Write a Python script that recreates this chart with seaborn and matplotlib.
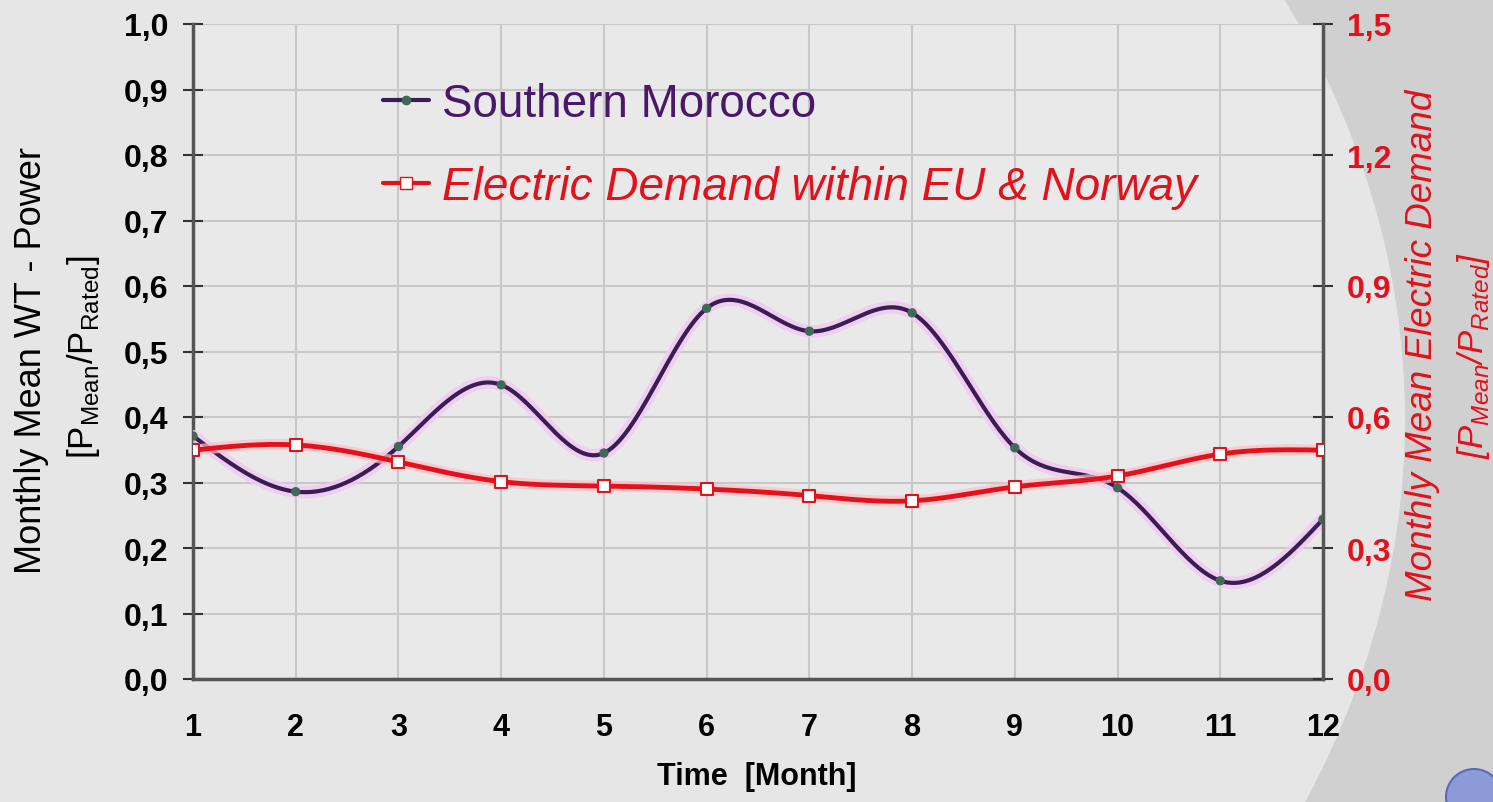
import numpy as np
import pandas as pd
import matplotlib
matplotlib.use("Agg")
import matplotlib.pyplot as plt
import seaborn as sns
from matplotlib.ticker import FuncFormatter
from matplotlib.patches import Ellipse
from matplotlib.lines import Line2D

# data
months = [1, 2, 3, 4, 5, 6, 7, 8, 9, 10, 11, 12]
morocco = [0.371, 0.286, 0.355, 0.449, 0.345, 0.566, 0.531, 0.559, 0.353, 0.292, 0.150, 0.244]
demand = [0.524, 0.536, 0.497, 0.452, 0.442, 0.435, 0.420, 0.408, 0.440, 0.465, 0.515, 0.524]

left_ticks = [0.0, 0.1, 0.2, 0.3, 0.4, 0.5, 0.6, 0.7, 0.8, 0.9, 1.0]
right_ticks = [0.0, 0.3, 0.6, 0.9, 1.2, 1.5]

label_morocco = "Southern Morocco"
label_demand = "Electric Demand within EU & Norway"


def spline(x, y, n=400):
    # natural cubic spline, only used to draw the smoothed line
    x = np.asarray(x, float)
    y = np.asarray(y, float)
    h = np.diff(x)
    m = len(x)
    A = np.zeros((m, m))
    r = np.zeros(m)
    A[0, 0] = A[-1, -1] = 1
    for i in range(1, m - 1):
        A[i, i - 1] = h[i - 1]
        A[i, i] = 2 * (h[i - 1] + h[i])
        A[i, i + 1] = h[i]
        r[i] = 3 * ((y[i + 1] - y[i]) / h[i] - (y[i] - y[i - 1]) / h[i - 1])
    c = np.linalg.solve(A, r)
    b = (y[1:] - y[:-1]) / h - h * (2 * c[:-1] + c[1:]) / 3
    d = (c[1:] - c[:-1]) / (3 * h)
    xs = np.linspace(x[0], x[-1], n)
    idx = np.clip(np.searchsorted(x, xs) - 1, 0, m - 2)
    dx = xs - x[idx]
    ys = y[idx] + b[idx] * dx + c[idx] * dx ** 2 + d[idx] * dx ** 3
    return pd.DataFrame({"x": xs, "y": ys})


sns.set_style("white")
plt.rcParams["font.family"] = ["Liberation Sans", "DejaVu Sans"]

W, H = 1493, 803
fig = plt.figure(figsize=(W / 100, H / 100), dpi=100, facecolor="#d0d0d0")
# light slide background with curved edge on the right
fig.add_artist(Ellipse((-300 / W, 1 - 420 / H), 3410 / W, 2272 / H,
                       transform=fig.transFigure, facecolor="#e6e6e6",
                       edgecolor="none", zorder=-2))
fig.add_artist(Ellipse((1474 / W, 1 - 798 / H), 56 / W, 56 / H,
                       transform=fig.transFigure, facecolor="#8c9ad8",
                       edgecolor="#5a6ab8", lw=1.5, zorder=-1))

ax = fig.add_axes([193 / W, 1 - 680 / H, 1130 / W, 655 / H])
ax.set_facecolor("#e9e9e9")
ax2 = ax.twinx()

purple = "#3a1d55"
red = "#e3111b"

m_df = pd.DataFrame({"month": months, "value": morocco})
d_df = pd.DataFrame({"month": months, "value": demand})

sm = spline(months, morocco)
sns.lineplot(data=sm, x="x", y="y", ax=ax, color="#f2c8f2", lw=9, alpha=0.8, zorder=3)
sns.lineplot(data=sm, x="x", y="y", ax=ax, color=purple, lw=3, zorder=4)
sns.scatterplot(data=m_df, x="month", y="value", ax=ax, color="#3f6a55",
                s=45, marker="o", edgecolor="none", zorder=5)

sd = spline(months, demand)
sns.lineplot(data=sd, x="x", y="y", ax=ax2, color="#ffc0c4", lw=8, alpha=0.7, zorder=3)
sns.lineplot(data=sd, x="x", y="y", ax=ax2, color=red, lw=3.5, zorder=4)
sns.scatterplot(data=d_df, x="month", y="value", ax=ax2, color="white",
                s=85, marker="s", edgecolor=red, linewidth=1.5, zorder=5)

ax.set_xlim(1, 12)
ax.set_ylim(0, 1.0)
ax2.set_ylim(0, 1.5)
ax.set_xticks(months)
ax.set_yticks(left_ticks)
ax2.set_yticks(right_ticks)

comma = FuncFormatter(lambda v, p: f"{v:.1f}".replace(".", ","))
ax.yaxis.set_major_formatter(comma)
ax2.yaxis.set_major_formatter(comma)

ax.grid(True, color="#c8c8c8", lw=1.5)
ax.set_axisbelow(True)
ax.set_xlabel("")
ax.set_ylabel("")
ax2.set_ylabel("")

for s in ["top", "right"]:
    ax.spines[s].set_visible(False)
for s in ["top", "left", "bottom"]:
    ax2.spines[s].set_visible(False)
for s in ["left", "bottom"]:
    ax.spines[s].set_color("#555555")
    ax.spines[s].set_linewidth(2.5)
ax2.spines["right"].set_color("#555555")
ax2.spines["right"].set_linewidth(2.5)

ax.tick_params(axis="y", direction="inout", length=14, width=1.5, color="#333333",
               labelsize=23, labelcolor="black", pad=11)
ax.tick_params(axis="x", direction="inout", length=14, width=1.5, color="#333333",
               labelsize=22, labelcolor="black", pad=17)
ax2.tick_params(axis="y", direction="inout", length=14, width=1.5, color="#333333",
                labelsize=23, labelcolor=red, pad=10)
for t in ax.get_xticklabels() + ax.get_yticklabels() + ax2.get_yticklabels():
    t.set_fontweight("bold")

# legend
handles = [
    Line2D([0], [0], color=purple, lw=3, marker="o", markersize=6,
           markerfacecolor="#3f6a55", markeredgecolor="#3f6a55"),
    Line2D([0], [0], color=red, lw=3, marker="s", markersize=8,
           markerfacecolor="white", markeredgecolor=red),
]
leg = fig.legend(handles, [label_morocco, label_demand], loc="upper left",
                 bbox_to_anchor=(383 / W, 1 - 83 / H), frameon=False,
                 fontsize=33, handlelength=1.0, handletextpad=0.28,
                 labelspacing=0.85, borderpad=0, borderaxespad=0)
leg.get_texts()[0].set_color("#4a1868")
leg.get_texts()[1].set_color(red)
leg.get_texts()[1].set_fontstyle("italic")

# axis titles
fig.text(32 / W, 1 - 360 / H, "Monthly Mean WT - Power", rotation=90,
         ha="center", va="center", fontsize=26, color="black")
fig.text(84 / W, 1 - 357 / H, r"[P$_\mathregular{Mean}$/P$_\mathregular{Rated}$]",
         rotation=90, ha="center", va="center", fontsize=25, color="black")
fig.text(1423 / W, 1 - 345 / H, "Monthly Mean Electric Demand", rotation=90,
         ha="center", va="center", fontsize=26.5, color=red, style="italic")
fig.text(1474 / W, 1 - 355 / H, r"[P$_\mathregular{Mean}$/P$_\mathregular{Rated}$]",
         rotation=90, ha="center", va="center", fontsize=25, color=red, style="italic")
fig.text(757 / W, 1 - 777 / H, "Time  [Month]", ha="center", va="center",
         fontsize=22, fontweight="bold", color="black")

fig.savefig("out.png", dpi=100, facecolor=fig.get_facecolor())
